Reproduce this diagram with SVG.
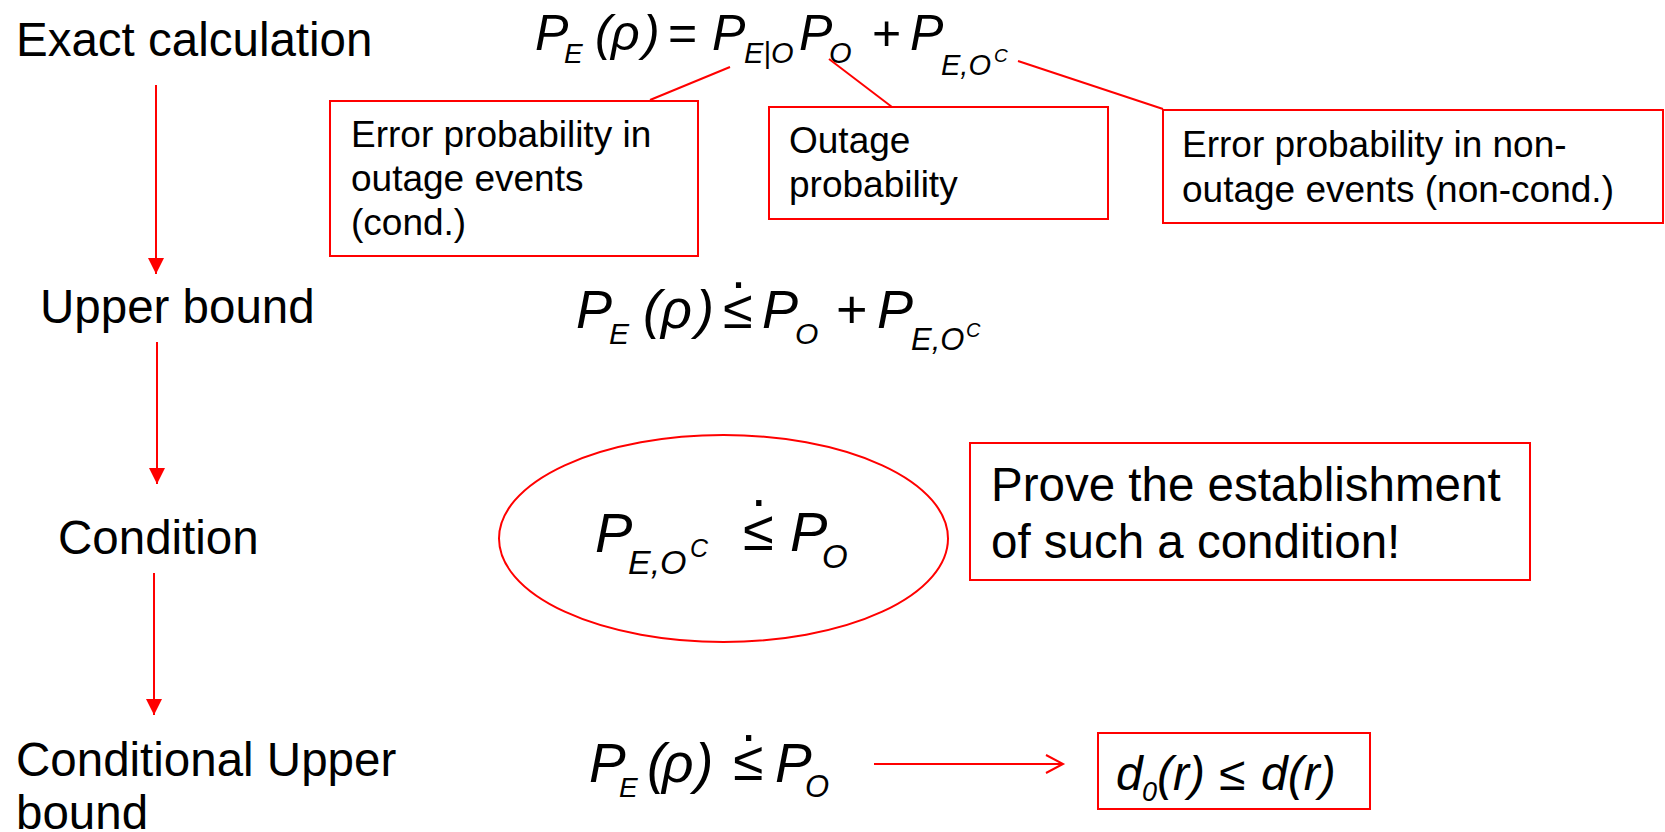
<svg xmlns="http://www.w3.org/2000/svg" width="1665" height="832" viewBox="0 0 1665 832">
<style>
.lbl{font-family:"Liberation Sans",Arial,sans-serif;font-size:47.5px;fill:#000}
.bt{font-family:"Liberation Sans",Arial,sans-serif;font-size:37px;fill:#000}
.pt{font-family:"Liberation Sans",Arial,sans-serif;font-size:47.5px;fill:#000}
.m{font-family:"Liberation Sans",Arial,sans-serif;font-style:italic;fill:#000}
.up{font-style:normal}
.box{fill:none;stroke:#ff0000;stroke-width:2}
.ln{fill:none;stroke:#ff0000;stroke-width:2}
</style>
<defs>
<marker id="tri" markerUnits="userSpaceOnUse" markerWidth="18" markerHeight="18" refX="16" refY="8" orient="auto">
<path d="M0,0 L16,8 L0,16 Z" fill="#ff0000"/>
</marker>
<marker id="chev" markerUnits="userSpaceOnUse" markerWidth="22" markerHeight="22" refX="18" refY="10" orient="auto">
<path d="M1,1 L18,10 L1,19" fill="none" stroke="#ff0000" stroke-width="2"/>
</marker>
</defs>
<rect width="1665" height="832" fill="#fff"/>

<g id="step-exact"><text class="lbl" x="16" y="56">Exact calculation</text></g>
<g id="step-upper"><text class="lbl" x="40" y="323">Upper bound</text></g>
<g id="step-condition"><text class="lbl" x="58" y="554">Condition</text></g>
<g id="step-conditional"><text class="lbl" x="16" y="776">Conditional Upper</text><text class="lbl" x="16" y="829">bound</text></g>

<g id="eq-exact">
<text class="m" font-size="50">
<tspan x="535" y="50">P</tspan><tspan x="564" y="63" font-size="28">E</tspan>
<tspan x="595" y="50">(</tspan><tspan x="611" y="50">ρ</tspan><tspan x="643" y="50">)</tspan>
<tspan x="668" y="50" class="up">=</tspan>
<tspan x="712" y="50">P</tspan><tspan x="744" y="63" font-size="29">E|O</tspan>
<tspan x="799" y="50">P</tspan><tspan x="829" y="63" font-size="29">O</tspan>
<tspan x="872" y="50" class="up">+</tspan>
<tspan x="910" y="50">P</tspan><tspan x="941" y="75" font-size="29">E,O</tspan><tspan x="994" y="62" font-size="19">C</tspan>
</text>
</g>

<g id="note-cond">
<rect class="box" x="330" y="101" width="368" height="155"/>
<text class="bt"><tspan x="351" y="147">Error probability in</tspan><tspan x="351" y="191">outage events</tspan><tspan x="351" y="235">(cond.)</tspan></text>
</g>
<g id="note-outage">
<rect class="box" x="769" y="107" width="339" height="112"/>
<text class="bt"><tspan x="789" y="153">Outage</tspan><tspan x="789" y="197">probability</tspan></text>
</g>
<g id="note-noncond">
<rect class="box" x="1163" y="110" width="500" height="113"/>
<text class="bt"><tspan x="1182" y="157">Error probability in non-</tspan><tspan x="1182" y="202">outage events (non-cond.)</tspan></text>
</g>

<g id="eq-upper">
<text class="m" font-size="54">
<tspan x="576" y="328">P</tspan><tspan x="609" y="344" font-size="30">E</tspan>
<tspan x="643" y="328">(</tspan><tspan x="661" y="328">ρ</tspan><tspan x="696" y="328">)</tspan>
<tspan x="723" y="328" class="up">≤</tspan>
<tspan x="762" y="328">P</tspan><tspan x="795" y="344" font-size="30">O</tspan>
<tspan x="836" y="328" class="up">+</tspan>
<tspan x="877" y="328">P</tspan><tspan x="911" y="350" font-size="31">E,O</tspan><tspan x="966" y="337" font-size="20">C</tspan>
</text>
<text class="m up" font-size="54" x="731" y="288">.</text>
</g>

<g id="eq-condition">
<ellipse class="box" cx="723.5" cy="538.5" rx="224.5" ry="103.5"/>
<text class="m" font-size="56">
<tspan x="595" y="552">P</tspan><tspan x="628" y="574" font-size="34">E,O</tspan><tspan x="690" y="557" font-size="25">C</tspan>
<tspan x="743" y="550" class="up">≤</tspan>
<tspan x="790" y="551">P</tspan><tspan x="822" y="568" font-size="33">O</tspan>
</text>
<text class="m up" font-size="56" x="751" y="506">.</text>
</g>

<g id="note-prove">
<rect class="box" x="970" y="443" width="560" height="137"/>
<text class="pt"><tspan x="991" y="501">Prove the establishment</tspan><tspan x="991" y="558">of such a condition!</tspan></text>
</g>

<g id="eq-conditional">
<text class="m" font-size="55">
<tspan x="589" y="782">P</tspan><tspan x="619" y="797" font-size="28">E</tspan>
<tspan x="647" y="782">(</tspan><tspan x="662" y="782">ρ</tspan><tspan x="695" y="782">)</tspan>
<tspan x="733" y="780" class="up">≤</tspan>
<tspan x="775" y="782">P</tspan><tspan x="805" y="797" font-size="31">O</tspan>
</text>
<text class="m up" font-size="55" x="741" y="741">.</text>
</g>

<g id="result">
<rect class="box" x="1098" y="733" width="272" height="76"/>
<text class="m" font-size="48">
<tspan x="1116" y="790">d</tspan><tspan x="1142" y="801" font-size="27">0</tspan><tspan x="1157" y="790">(r)</tspan>
<tspan x="1219" y="790" class="up">≤</tspan>
<tspan x="1261" y="790">d(r)</tspan>
</text>
</g>

<g id="connectors">
<line class="ln" x1="156" y1="85" x2="156" y2="274" marker-end="url(#tri)"/>
<line class="ln" x1="157" y1="342" x2="157" y2="484" marker-end="url(#tri)"/>
<line class="ln" x1="154" y1="573" x2="154" y2="715" marker-end="url(#tri)"/>
<line class="ln" x1="650" y1="100" x2="730" y2="67"/>
<line class="ln" x1="892" y1="107" x2="829" y2="59"/>
<line class="ln" x1="1018" y1="61" x2="1163" y2="109"/>
<line class="ln" x1="874" y1="764" x2="1063" y2="764" marker-end="url(#chev)"/>
</g>
</svg>
